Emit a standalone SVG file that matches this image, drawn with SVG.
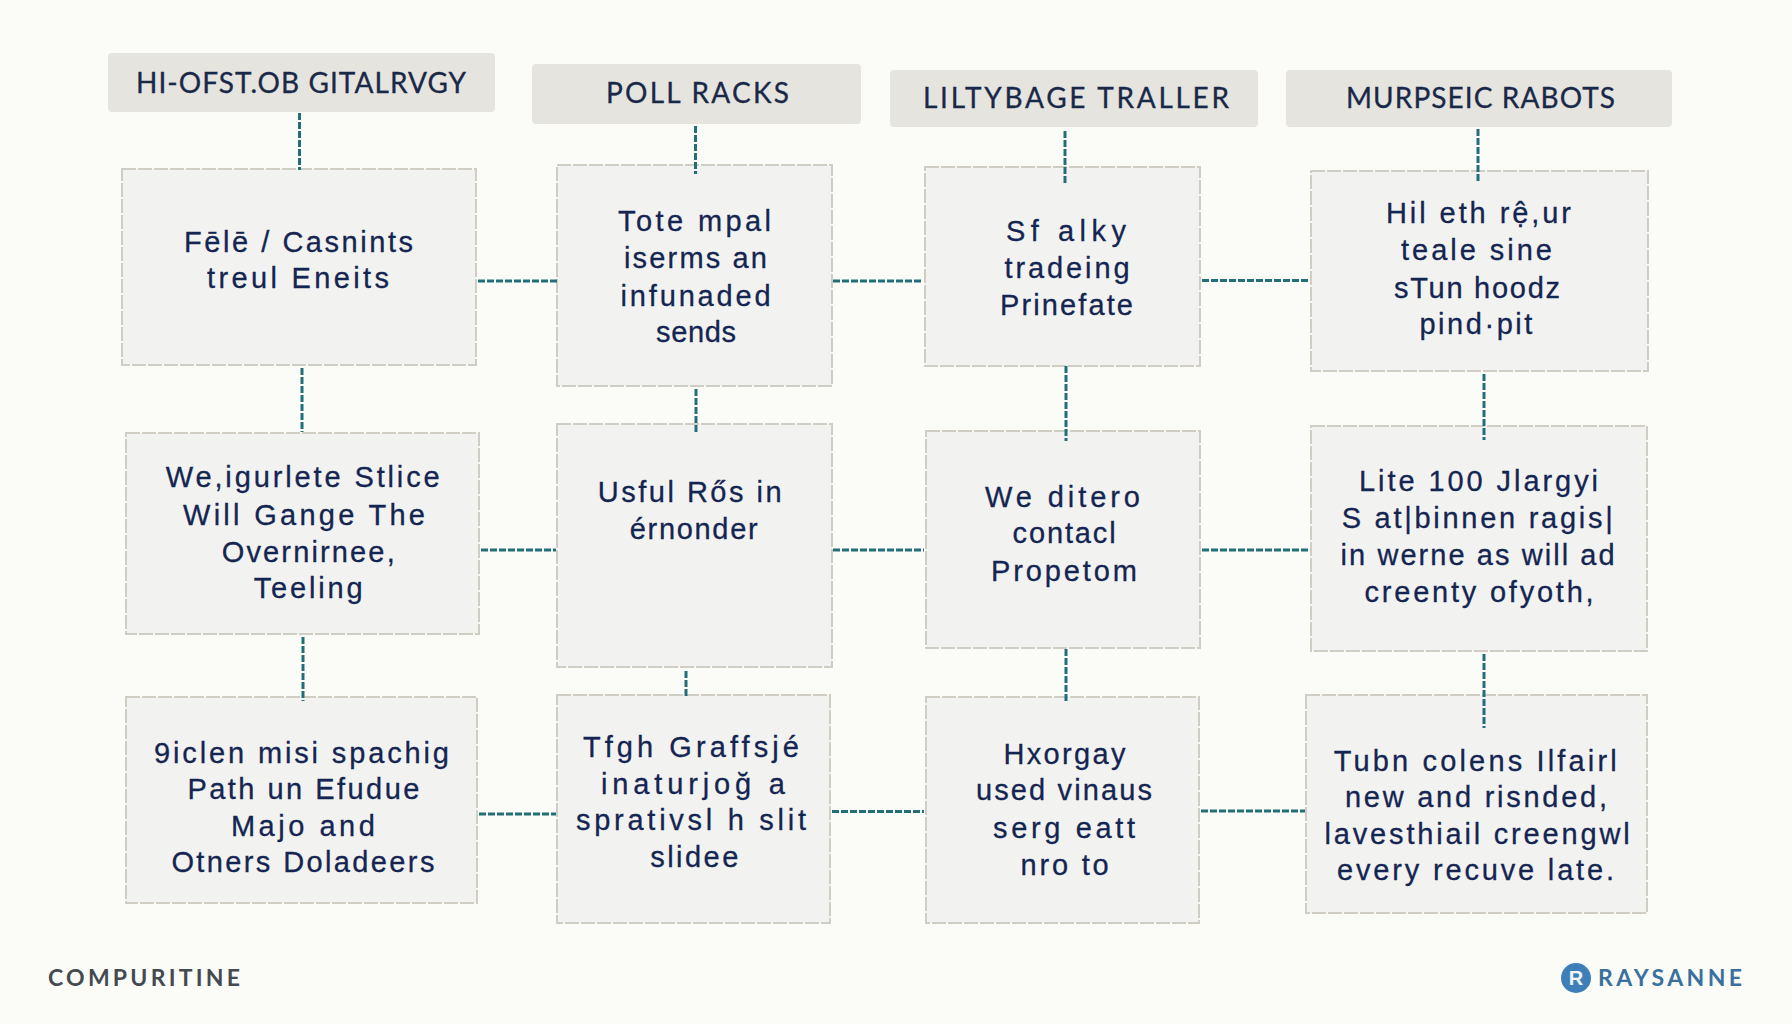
<svg xmlns="http://www.w3.org/2000/svg" width="1792" height="1024" viewBox="0 0 1792 1024">
<style>
.bg{fill:#fbfcf7}
.h rect{fill:#e5e4df;rx:4px}
.n rect{fill:#f2f3f1;stroke:#d0cec4;stroke-width:2;stroke-dasharray:14 2}
text{font-family:"Liberation Sans","DejaVu Sans",sans-serif;fill:#152552;font-size:29px;stroke:#152552;stroke-width:.3}
.h text{font-family:Lato,"Liberation Sans",sans-serif;font-size:28px;fill:#1a2848;stroke:#1a2848}
#connectors path{fill:none;stroke:#226f7a;stroke-width:3;stroke-dasharray:7 2}
.foot{font-family:Lato,"Liberation Sans",sans-serif;font-size:23px;stroke:none}
</style>
<rect class="bg" width="1792" height="1024"/>
<g id="h1" class="h"><rect x="108" y="53" width="387" height="59"/><text x="136" y="93" textLength="330">HI-OFST.OB GITALRVGY</text></g>
<g id="h2" class="h"><rect x="532" y="64" width="329" height="60"/><text x="606" y="103" textLength="183">POLL RACKS</text></g>
<g id="h3" class="h"><rect x="890" y="70" width="368" height="57"/><text x="923" y="108" textLength="306">LILTYBAGE TRALLER</text></g>
<g id="h4" class="h"><rect x="1286" y="70" width="386" height="57"/><text x="1346" y="108" textLength="269">MURPSEIC RABOTS</text></g>
<g id="n11" class="n"><rect x="122" y="169" width="354" height="196"/><text x="184" y="252" textLength="229">Fēlē / Casnints</text><text x="207" y="288" textLength="182">treul Eneits</text></g>
<g id="n12" class="n"><rect x="557" y="165" width="275" height="221"/><text x="618" y="231" textLength="153">Tote mpal</text><text x="624" y="268" textLength="143">iserms an</text><text x="620.600" y="305.500" textLength="150">infunaded</text><text x="656" y="342" textLength="80">sends</text></g>
<g id="n13" class="n"><rect x="925" y="167" width="275" height="199"/><text x="1006" y="240.500" textLength="120">Sf alky</text><text x="1004.600" y="278" textLength="125">tradeing</text><text x="1000" y="314.500" textLength="133">Prinefate</text></g>
<g id="n14" class="n"><rect x="1311" y="171" width="337" height="200"/><text x="1386" y="223" textLength="185">Hil eth rệ,ur</text><text x="1401" y="260" textLength="151">teale sine</text><text x="1394" y="297.500" textLength="166">sTun hoodz</text><text x="1419.400" y="334" textLength="113">pind·pit</text></g>
<g id="n21" class="n"><rect x="126" y="433" width="353" height="201"/><text x="165.700" y="487" textLength="274">We,igurlete Stlice</text><text x="183" y="525" textLength="242">Will Gange The</text><text x="221.700" y="561.500" textLength="173">Overnirnee,</text><text x="253.700" y="598" textLength="109">Teeling</text></g>
<g id="n22" class="n"><rect x="557" y="424" width="275" height="243"/><text x="597.700" y="502" textLength="184">Usful Rős in</text><text x="629.700" y="538.500" textLength="128">érnonder</text></g>
<g id="n23" class="n"><rect x="926" y="431" width="274" height="217"/><text x="985" y="506.500" textLength="155">We ditero</text><text x="1012.600" y="543" textLength="103">contacl</text><text x="991" y="581" textLength="146">Propetom</text></g>
<g id="n24" class="n"><rect x="1311" y="426" width="336" height="225"/><text x="1359" y="490.500" textLength="239">Lite 100 Jlargyi</text><text x="1341.700" y="528.400" textLength="271">S at|binnen ragis|</text><text x="1340.600" y="565" textLength="274">in werne as will ad</text><text x="1364.600" y="601.500" textLength="229">creenty ofyoth,</text></g>
<g id="n31" class="n"><rect x="126" y="697" width="351" height="206"/><text x="154" y="762.600" textLength="295">9iclen misi spachig</text><text x="187.400" y="799" textLength="232">Path un Efudue</text><text x="230.900" y="836" textLength="144">Majo and</text><text x="171.400" y="872" textLength="263">Otners Doladeers</text></g>
<g id="n32" class="n"><rect x="557" y="695" width="273" height="228"/><text x="582.900" y="757" textLength="216">Tfgh Graffsjé</text><text x="601" y="793.500" textLength="184">inaturjoğ a</text><text x="576" y="830" textLength="230">sprativsl h slit</text><text x="650.300" y="866.500" textLength="88">slidee</text></g>
<g id="n33" class="n"><rect x="926" y="697" width="273" height="226"/><text x="1003.400" y="764" textLength="122">Hxorgay</text><text x="976" y="800" textLength="176">used vinaus</text><text x="993" y="838" textLength="142">serg eatt</text><text x="1020.600" y="874.500" textLength="88">nro to</text></g>
<g id="n34" class="n"><rect x="1306" y="695" width="341" height="218"/><text x="1333.700" y="770.500" textLength="283">Tubn colens Ilfairl</text><text x="1345" y="807" textLength="262">new and risnded,</text><text x="1324.600" y="844" textLength="305">lavesthiail creengwl</text><text x="1337" y="880" textLength="277">every recuve late.</text></g>
<g id="connectors">
<path d="M299.500 113V170M695.500 126V174M1065 131V184M1478 129V181"/>
<path d="M302 368V432M696 389V434M1066 366V441M1484 374V440"/>
<path d="M303 637V701M686 671V696M1066 649V703M1484 654V728"/>
<path d="M478 281H557M833 281H922M1202 280.500H1310"/>
<path d="M481 550H556M833 550H924M1202 550H1310"/>
<path d="M479 814H556M832 811.500H924M1201 811H1305"/>
</g>
<g id="footer-left"><text class="foot" x="48" y="986" textLength="192" style="fill:#454a50;font-weight:bold">COMPURITINE</text></g>
<g id="footer-right"><circle cx="1576" cy="978" r="15" fill="#3f7fb8"/><text x="1576" y="985" text-anchor="middle" style="fill:#f3f6f8;font-size:20px;font-weight:bold;stroke:none">R</text><text class="foot" x="1598" y="986" textLength="144" style="fill:#3a70a0;font-weight:bold">RAYSANNE</text></g>
</svg>
